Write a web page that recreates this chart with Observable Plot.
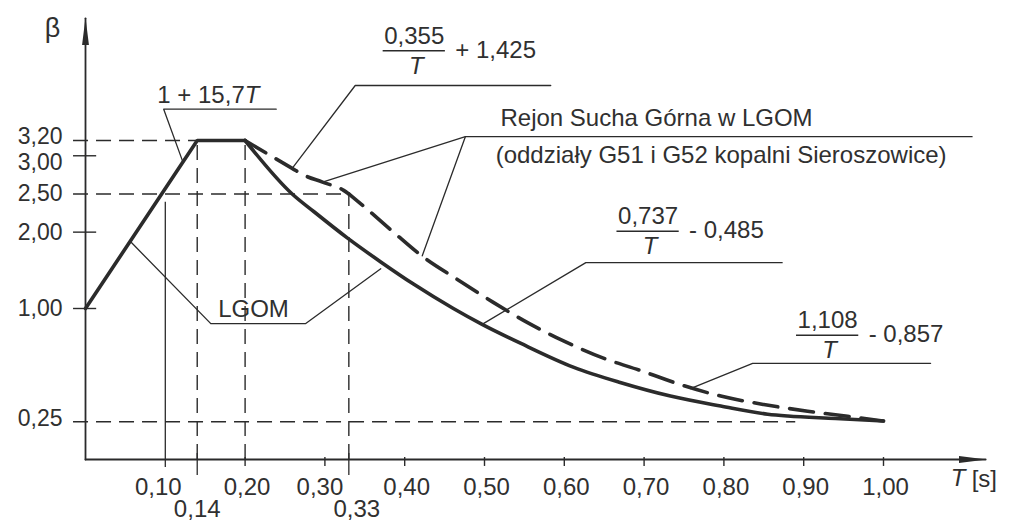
<!DOCTYPE html>
<html><head><meta charset="utf-8">
<script src="https://cdn.jsdelivr.net/npm/d3@7"></script>
<script src="https://cdn.jsdelivr.net/npm/@observablehq/plot@0.6"></script>
<style>
html,body{margin:0;padding:0;background:#fff;}
</style></head><body><div id="chart"></div>
<script>
// ---------- data ----------
const xTicks = [0.10, 0.20, 0.30, 0.40, 0.50, 0.60, 0.70, 0.80, 0.90, 1.00];
const xTickLabels = ["0,10", "0,20", "0,30", "0,40", "0,50", "0,60", "0,70", "0,80", "0,90", "1,00"];
const xMarkedTicks = [0.14, 0.33];
const xMarkedLabels = ["0,14", "0,33"];
const yTicks = [0.25, 1.00, 2.00, 2.50, 3.00, 3.20];
const yTickLabels = ["0,25", "1,00", "2,00", "2,50", "3,00", "3,20"];
const yTickMarks = [1.00, 2.00, 3.00];

// LGOM (solid): 1 + 15,7T, plateau, then 0,737/T - 0,485
const lgomRiseT = [0, 0.14, 0.20];
const lgomRiseB = [1.00, 3.20, 3.20];
const lgomFallT = [0.20, 0.259, 0.286, 0.328, 0.370, 0.411, 0.461, 0.497, 0.545, 0.612, 0.670, 0.733, 0.796, 0.855, 0.880, 0.940, 1.00];
const lgomFallB = [3.20, 2.50, 2.27, 1.925, 1.61, 1.32, 1.00, 0.895, 0.77, 0.61, 0.51, 0.42, 0.354, 0.30, 0.288, 0.272, 0.255];

// Rejon Sucha Górna (dashed): 0,355/T + 1,425 then 1,108/T - 0,857
const rejonAT = [0.20, 0.229, 0.259, 0.273, 0.297, 0.323, 0.33];
const rejonAB = [3.20, 3.02, 2.835, 2.75, 2.655, 2.55, 2.50];
const rejonBT = [0.33, 0.345, 0.386, 0.420, 0.466, 0.511, 0.554, 0.599, 0.649, 0.695, 0.749, 0.796, 0.850, 0.905, 0.955, 1.00];
const rejonBB = [2.50, 2.37, 2.00, 1.70, 1.38, 1.08, 0.906, 0.785, 0.671, 0.59, 0.49, 0.42, 0.364, 0.32, 0.286, 0.255];

// dashed guide lines (data values)
const guideH = [{b: 3.20, t: 0.20}, {b: 2.50, t: 0.33}, {b: 0.25, t: 0.89}];
const guideV = [{t: 0.14, b0: 0, b: 3.20}, {t: 0.20, b0: 0, b: 3.20}, {t: 0.33, b0: 0, b: 2.50}];
const line010 = [{t: 0.10, b: 2.39}];

// annotation leader lines (underline + pointer), in data units
const leaders = [
  {id: "lin", pts: [[0.239, 3.61], [0.098, 3.61], [0.122, 2.92]]},
  {id: "f355", pts: [[0.583, 3.92], [0.338, 3.92], [0.259, 2.835]]},
  {id: "rej1", pts: [[1.111, 3.25], [0.476, 3.25], [0.297, 2.655]]},
  {id: "rej2", pts: [[0.476, 3.25], [0.422, 1.69]]},
  {id: "f737", pts: [[0.873, 1.60], [0.627, 1.60], [0.497, 0.895]]},
  {id: "f108", pts: [[1.059, 0.637], [0.836, 0.637], [0.758, 0.47]]},
  {id: "lgom", pts: [[0.056, 1.88], [0.157, 0.90], [0.276, 0.90], [0.370, 1.52]]}
];

// formula labels: numerator / T, plus remainder
const fractions = [
  {t: 0.412, b: 4.374, num: "0,355", rest: "+ 1,425"},
  {t: 0.705, b: 2.01, num: "0,737", rest: "- 0,485"},
  {t: 0.930, b: 0.823, num: "1,108", rest: "- 0,857"}
];
const textLabels = [
  {t: 0.520, b: 3.396, text: "Rejon Sucha Górna w LGOM"},
  {t: 0.514, b: 2.91, text: "(oddziały G51 i G52 kopalni Sieroszowice)"}
];
const linearLabel = {t: 0.090, b: 3.69, text: "1 + 15,7", sym: "T"};
const lgomLabel = {t: 0.2105, b: 0.947, text: "LGOM"};
const axisEnds = {tMax: 1.128, bMax: 4.80};
const yName = "β";
const xName = "T";
const xUnit = "[s]";

// ---------- chart ----------
const ink = "#2b2b2b";
const axisInk = "#2a2a2b";
const thin = 1.3;
const zip = (a, b) => a.map((v, i) => ({t: v, b: b[i]}));
const leaderRows = leaders.flatMap(l => l.pts.map(p => ({id: l.id, t: p[0], b: p[1]})));
const yLab = yTicks.map((v, i) => ({v, label: yTickLabels[i]}));
const xLab = xTicks.map((v, i) => ({v, label: xTickLabels[i]}));
const xLab2 = xMarkedTicks.map((v, i) => ({v, label: xMarkedLabels[i]}));
const outT = -0.015, inT = 0.014;   // y-tick extents (T units)
const txt = {fontSize: 24, fill: "#303030", lineAnchor: "bottom"};
const dashed = {stroke: ink, strokeWidth: 1.4, strokeDasharray: "15,8"};
const axisX = [{t: 0, b: 0}, {t: axisEnds.tMax, b: 0}];
const axisY = [{t: 0, b: 0}, {t: 0, b: axisEnds.bMax}];
const yOffset = {3.2: -4, 3.0: 7, 0.25: -3};
const xOffset = {0.1: -7, 0.3: -5};

const chart = Plot.plot({
  width: 1009,
  height: 521,
  margin: 0,
  x: {type: "linear", domain: [0, 1], range: [85, 883], axis: null},
  y: {type: "linear", domain: [0, 1, 3.2], range: [459, 308, 140], axis: null},
  style: {fontFamily: "'Liberation Sans', Arial, sans-serif", background: "#fff", color: "#303030", overflow: "visible"},
  marks: [
    // guides
    Plot.ruleY(guideH, {y: "b", x1: outT, x2: "t", ...dashed}),
    Plot.ruleX(guideV, {x: "t", y1: "b0", y2: "b", ...dashed}),
    Plot.ruleX(line010, {x: "t", y1: -0.053, y2: "b", stroke: ink, strokeWidth: thin}),
    // axis ticks
    Plot.ruleX(xTicks.filter(d => d !== 0.10), {x: d => d, y1: -0.046, y2: 0.013, stroke: ink, strokeWidth: 1.4}),
    Plot.ruleX(xMarkedTicks, {x: d => d, y1: -0.106, y2: 0.04, stroke: ink, strokeWidth: thin}),
    Plot.ruleY(yTickMarks, {y: d => d, x1: outT, x2: inT, stroke: ink, strokeWidth: 1.4}),
    // leaders
    Plot.line(leaderRows, {x: "t", y: "b", z: "id", stroke: ink, strokeWidth: thin}),
    // fraction bars
    Plot.ruleY(fractions, {y: "b", x1: d => d.t - 0.039, x2: d => d.t + 0.039, stroke: ink, strokeWidth: 1.5}),
    // axes
    Plot.line(axisX, {x: "t", y: "b", stroke: axisInk, strokeWidth: 1.8}),
    Plot.line(axisY, {x: "t", y: "b", stroke: axisInk, strokeWidth: 1.8}),
    // curves
    Plot.line(zip(lgomRiseT, lgomRiseB), {x: "t", y: "b", stroke: ink, strokeWidth: 3.6, strokeLinejoin: "miter"}),
    Plot.line(zip(lgomFallT, lgomFallB), {x: "t", y: "b", stroke: ink, strokeWidth: 3.6, curve: "monotone-x"}),
    Plot.line(zip(rejonAT, rejonAB), {x: "t", y: "b", stroke: ink, strokeWidth: 3.6, curve: "monotone-x", strokeDasharray: "24,12"}),
    Plot.line(zip(rejonBT, rejonBB), {x: "t", y: "b", stroke: ink, strokeWidth: 3.6, curve: "monotone-x", strokeDasharray: "24,12", strokeDashoffset: 6}),
    // y tick labels (one mark per offset group)
    ...[-4, -3, 0, 7].map(off => Plot.text(yLab.filter(d => (yOffset[d.v] || 0) === off),
      {x: 0, y: "v", text: "label", textAnchor: "end", dx: -23, dy: off, ...txt, fontSize: 23, lineAnchor: "middle"})),
    // x tick labels
    ...[-7, -5, 2].map(off => Plot.text(xLab.filter(d => (xOffset[d.v] ?? 2) === off),
      {x: "v", y: 0, text: "label", dy: 35, dx: off, ...txt})),
    Plot.text(xLab2.filter(d => d.v === 0.14), {x: "v", y: 0, text: "label", dy: 57, ...txt}),
    Plot.text(xLab2.filter(d => d.v === 0.33), {x: "v", y: 0, text: "label", dy: 57, dx: 8, ...txt}),
    // axis names
    Plot.text([yName], {x: 0, y: axisEnds.bMax, text: d => d, dx: -33, dy: 19, ...txt, fontSize: 27}),
    Plot.text([xName], {x: axisEnds.tMax, y: 0, text: d => d, dx: -35, dy: 26, textAnchor: "start", fontStyle: "italic", ...txt}),
    Plot.text([xUnit], {x: axisEnds.tMax, y: 0, text: d => d, dx: -14, dy: 27, textAnchor: "start", ...txt}),
    // annotation texts
    Plot.text([linearLabel], {x: "t", y: "b", text: "text", textAnchor: "start", ...txt}),
    Plot.text([linearLabel], {x: "t", y: "b", text: "sym", textAnchor: "start", dx: 87.5, fontStyle: "italic", ...txt}),
    Plot.text([lgomLabel], {x: "t", y: "b", text: "text", textAnchor: "middle", ...txt}),
    Plot.text(textLabels, {x: "t", y: "b", text: "text", textAnchor: "start", ...txt}),
    Plot.text(fractions, {x: "t", y: "b", text: "num", textAnchor: "middle", dy: -7, ...txt}),
    Plot.text(fractions, {x: "t", y: "b", text: () => "T", textAnchor: "middle", dx: 2, dy: 23, fontStyle: "italic", ...txt}),
    Plot.text(fractions, {x: "t", y: "b", text: "rest", textAnchor: "start", dx: 41, dy: 7, ...txt})
  ]
});

// arrowheads on the axis lines
const sel = d3.select(chart);
sel.append("defs").append("marker")
  .attr("id", "ah").attr("viewBox", "0 0 28 7").attr("refX", 27).attr("refY", 3.5)
  .attr("markerWidth", 28).attr("markerHeight", 7).attr("markerUnits", "userSpaceOnUse").attr("orient", "auto")
  .append("path").attr("d", "M0,0L28,3.5L0,7Z").attr("fill", ink);
sel.selectAll("path").filter(function() {
  const g = this.closest("g");
  return (this.getAttribute("stroke") === axisInk) || (g && g.getAttribute("stroke") === axisInk);
}).attr("marker-end", "url(#ah)");

document.getElementById("chart").appendChild(chart);
</script></body></html>
